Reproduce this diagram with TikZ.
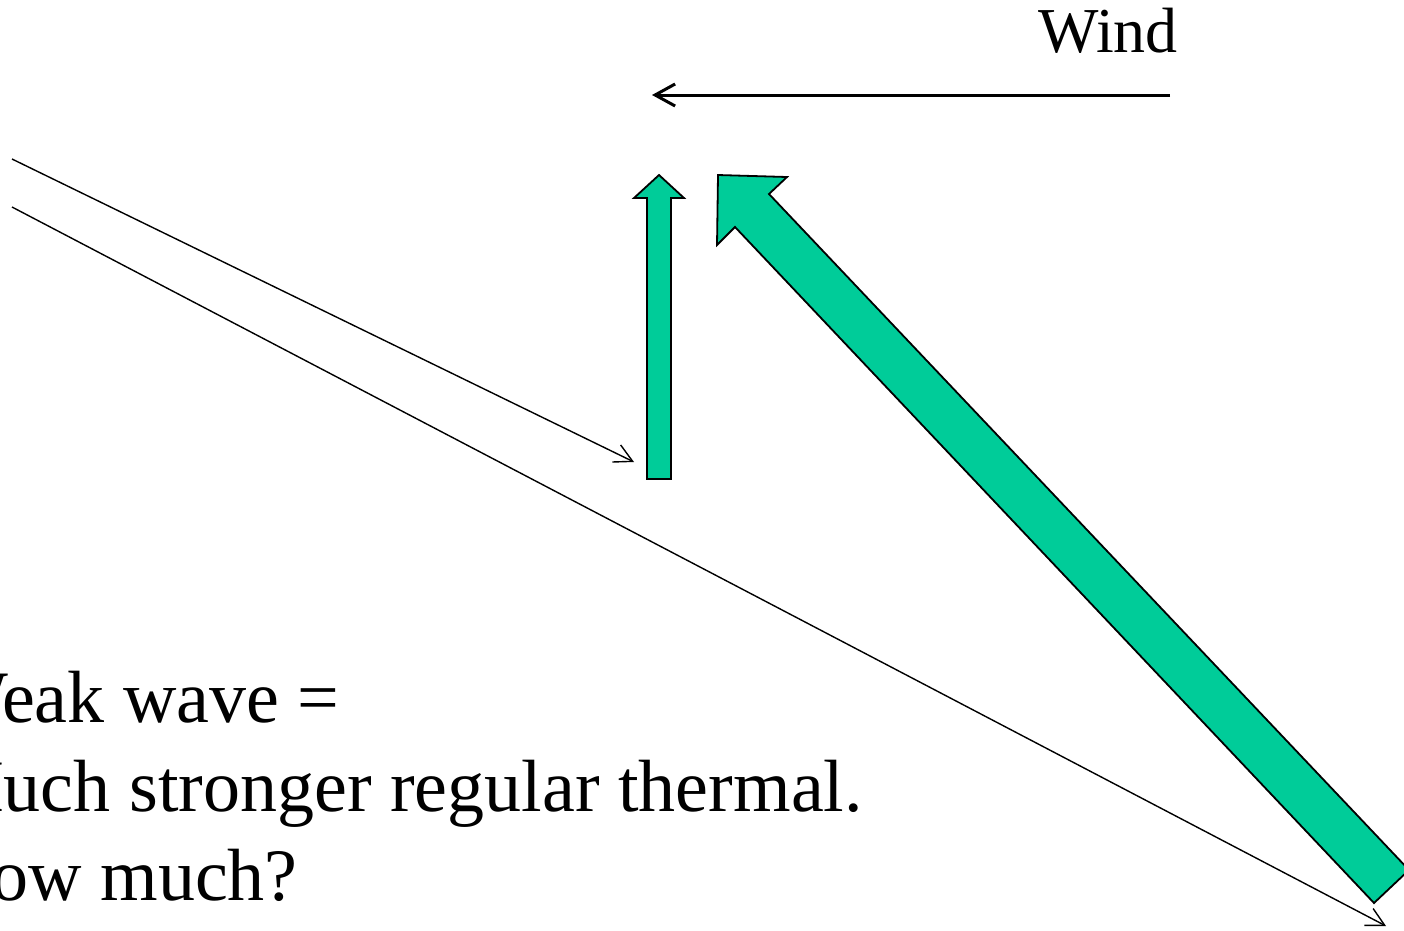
\documentclass[tikz,border=0pt]{standalone}
\usepackage{fontspec}
\setmainfont{Liberation Serif}
\usetikzlibrary{arrows.meta}
\definecolor{upgreen}{RGB}{0,204,153}
\tikzset{
  thinarrow/.style={line width=1.4pt, -{Straight Barb[length=18pt,width=19pt,line width=1.4pt]}},
  windarrow/.style={line width=3pt, -{Straight Barb[length=20pt,width=22pt,line width=3pt]}},
  greenshape/.style={fill=upgreen, draw=black, line width=1.8pt, line join=miter},
  bigtext/.style={font=\fontsize{74}{89}\selectfont, anchor=base west, inner sep=0pt},
}
\begin{document}
\begin{tikzpicture}[x=1pt,y=-1pt]
\useasboundingbox (0,0) rectangle (1404,930);
\clip (0,0) rectangle (1404,930);
% wind
\node[font=\fontsize{64}{76}\selectfont, anchor=base west, inner sep=0pt] (wind) at (1038,52) {Wind};
\coordinate (w1) at (1170,95);
\coordinate (w2) at (652,95);
\draw[windarrow] (w1) -- (w2);
% thin lines
\coordinate (a1) at (12,159);
\coordinate (a2) at (634,462);
\draw[thinarrow] (a1) -- (a2);
\coordinate (b1) at (12,207);
\coordinate (b2) at (1386,926);
\draw[thinarrow] (b1) -- (b2);
% small green arrow
\draw[greenshape] (647,479) -- (647,198) -- (634,198) -- (659,175) -- (684,198) -- (671,198) -- (671,479) -- cycle;
% big green arrow
\draw[greenshape] (718,175) -- (787,177) -- (769,194) -- (1409,870) -- (1374,903) -- (735,227) -- (717,245) -- cycle;
% text
\node[bigtext] (t1) at (-62,722) {Weak wave =};
\node[bigtext] (t2) at (-62,811) {Much stronger regular thermal.};
\node[bigtext] (t3) at (-62,900) {How much?};
\end{tikzpicture}
\end{document}
